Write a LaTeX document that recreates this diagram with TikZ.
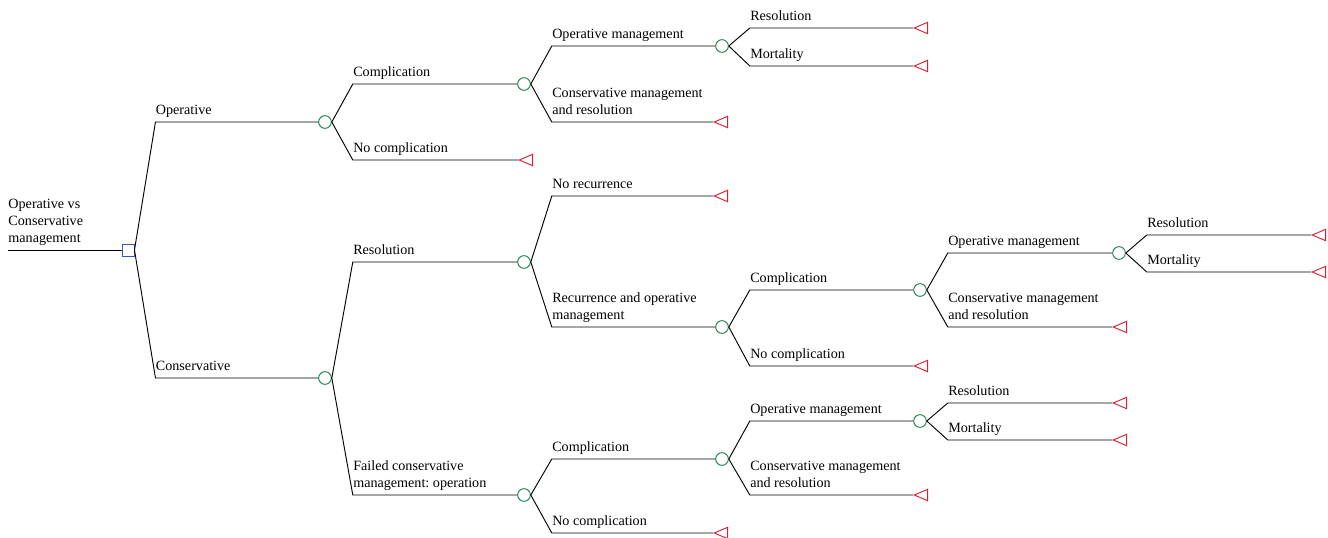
\documentclass[tikz,border=0pt]{standalone}
\usepackage{fontspec}
\setmainfont{Liberation Serif}
\usetikzlibrary{calc,shapes.geometric}
\definecolor{chancegreen}{RGB}{30,130,75}
\definecolor{decisionblue}{RGB}{50,90,190}
\definecolor{termred}{RGB}{220,30,50}
\newcommand{\branch}[3]{
	\draw (#1.east) -- ($(#1.east |- #2)+(21,0)$) coordinate (#2-elbow) -- (#2);
	\node[lbl] at (#2-elbow) {#3};
}

\begin{document}
\frenchspacing
\begin{tikzpicture}[x=0.75pt,y=-0.75pt,line width=0.7pt,
	lbl/.style={anchor=south west, align=left, inner xsep=0pt, inner ysep=3.1pt, text depth=2.5pt, font=\fontsize{10.6}{12.6}\selectfont},
	chance/.style={circle, draw=chancegreen, fill=white, inner sep=0pt, minimum size=9.5pt},
	decision/.style={rectangle, draw=decisionblue, fill=white, inner sep=0pt, minimum size=9pt},
	term/.style={isosceles triangle, shape border rotate=180, isosceles triangle stretches, draw=termred, inner sep=0pt, minimum width=8.5pt, minimum height=10pt, anchor=apex}]
	\useasboundingbox (0,0) rectangle (1328,538);

	% decision
	\coordinate (start) at (8,250);
	\node[decision] (root) at (128,250) {};
	\draw (start) -- (root);
	\node[lbl] at (start) {Operative vs\\Conservative\\management};

	% chance nodes
	\node[chance] (op) at (325,122) {};
	\node[chance] (cons) at (325,378) {};
	\node[chance] (opcomp) at (524,84) {};
	\node[chance] (opcompop) at (722,46) {};
	\node[chance] (res) at (524,262) {};
	\node[chance] (recur) at (722,327) {};
	\node[chance] (recurcomp) at (920,290) {};
	\node[chance] (recurcompop) at (1119,253) {};
	\node[chance] (fail) at (524,495) {};
	\node[chance] (failcomp) at (722,459) {};
	\node[chance] (failcompop) at (920,421) {};

	% terminal nodes
	\node[term] (opnocomp) at (518,160) {};
	\node[term] (opcompcons) at (713,122) {};
	\node[term] (opcompopres) at (913,28) {};
	\node[term] (opcompopmort) at (913,66) {};
	\node[term] (norecur) at (713,196) {};
	\node[term] (recurnocomp) at (913,366) {};
	\node[term] (recurcompcons) at (1112,327) {};
	\node[term] (recurcompopres) at (1311,235) {};
	\node[term] (recurcompopmort) at (1311,272) {};
	\node[term] (failnocomp) at (713,533) {};
	\node[term] (failcompcons) at (913,495) {};
	\node[term] (failcompopres) at (1112,403) {};
	\node[term] (failcompopmort) at (1112,440) {};

	\branch{root}{op}{Operative}
	\branch{root}{cons}{Conservative}
	\branch{op}{opcomp}{Complication}
	\branch{op}{opnocomp}{No complication}
	\branch{opcomp}{opcompop}{Operative management}
	\branch{opcomp}{opcompcons}{Conservative management\\and resolution}
	\branch{opcompop}{opcompopres}{Resolution}
	\branch{opcompop}{opcompopmort}{Mortality}
	\branch{cons}{res}{Resolution}
	\branch{cons}{fail}{Failed conservative\\management: operation}
	\branch{res}{norecur}{No recurrence}
	\branch{res}{recur}{Recurrence and operative\\management}
	\branch{recur}{recurcomp}{Complication}
	\branch{recur}{recurnocomp}{No complication}
	\branch{recurcomp}{recurcompop}{Operative management}
	\branch{recurcomp}{recurcompcons}{Conservative management\\and resolution}
	\branch{recurcompop}{recurcompopres}{Resolution}
	\branch{recurcompop}{recurcompopmort}{Mortality}
	\branch{fail}{failcomp}{Complication}
	\branch{fail}{failnocomp}{No complication}
	\branch{failcomp}{failcompop}{Operative management}
	\branch{failcomp}{failcompcons}{Conservative management\\and resolution}
	\branch{failcompop}{failcompopres}{Resolution}
	\branch{failcompop}{failcompopmort}{Mortality}
\end{tikzpicture}
\end{document}
